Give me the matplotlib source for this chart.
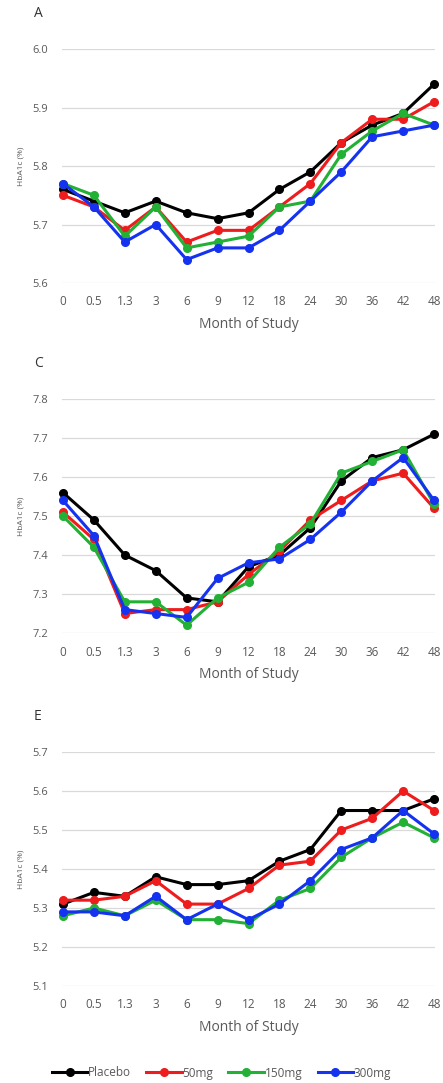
import matplotlib
matplotlib.use("Agg")
import matplotlib.pyplot as plt
from matplotlib.lines import Line2D

months = ["0", "0.5", "1.3", "3", "6", "9", "12", "18", "24", "30", "36", "42", "48"]
series_names = ["Placebo", "50mg", "150mg", "300mg"]
colors = ["#000000", "#ee1c1c", "#22b035", "#1432f0"]

# Panel A
a_placebo = [5.76, 5.74, 5.72, 5.74, 5.72, 5.71, 5.72, 5.76, 5.79, 5.84, 5.87, 5.89, 5.94]
a_50 = [5.75, 5.73, 5.69, 5.73, 5.67, 5.69, 5.69, 5.73, 5.77, 5.84, 5.88, 5.88, 5.91]
a_150 = [5.77, 5.75, 5.68, 5.73, 5.66, 5.67, 5.68, 5.73, 5.74, 5.82, 5.86, 5.89, 5.87]
a_300 = [5.77, 5.73, 5.67, 5.70, 5.64, 5.66, 5.66, 5.69, 5.74, 5.79, 5.85, 5.86, 5.87]
a_ticks = [5.6, 5.7, 5.8, 5.9, 6.0]

# Panel C
c_placebo = [7.56, 7.49, 7.40, 7.36, 7.29, 7.28, 7.37, 7.40, 7.47, 7.59, 7.65, 7.67, 7.71]
c_50 = [7.51, 7.44, 7.25, 7.26, 7.26, 7.28, 7.35, 7.41, 7.49, 7.54, 7.59, 7.61, 7.52]
c_150 = [7.50, 7.42, 7.28, 7.28, 7.22, 7.29, 7.33, 7.42, 7.48, 7.61, 7.64, 7.67, 7.53]
c_300 = [7.54, 7.45, 7.26, 7.25, 7.24, 7.34, 7.38, 7.39, 7.44, 7.51, 7.59, 7.65, 7.54]
c_ticks = [7.2, 7.3, 7.4, 7.5, 7.6, 7.7, 7.8]

# Panel E
e_placebo = [5.31, 5.34, 5.33, 5.38, 5.36, 5.36, 5.37, 5.42, 5.45, 5.55, 5.55, 5.55, 5.58]
e_50 = [5.32, 5.32, 5.33, 5.37, 5.31, 5.31, 5.35, 5.41, 5.42, 5.50, 5.53, 5.60, 5.55]
e_150 = [5.28, 5.30, 5.28, 5.32, 5.27, 5.27, 5.26, 5.32, 5.35, 5.43, 5.48, 5.52, 5.48]
e_300 = [5.29, 5.29, 5.28, 5.33, 5.27, 5.31, 5.27, 5.31, 5.37, 5.45, 5.48, 5.55, 5.49]
e_ticks = [5.1, 5.2, 5.3, 5.4, 5.5, 5.6, 5.7]

panels = [
    ("A", [a_placebo, a_50, a_150, a_300], a_ticks, 0.7387),
    ("C", [c_placebo, c_50, c_150, c_300], c_ticks, 0.4155),
    ("E", [e_placebo, e_50, e_150, e_300], e_ticks, 0.0896),
]

plt.rcParams['font.family'] = ['Open Sans', 'DejaVu Sans']
W, H = 443, 1083
fig = plt.figure(figsize=(W / 100, H / 100), dpi=100)
fig.patch.set_facecolor("white")

gray = "#595959"
x = list(range(len(months)))
left = 62 / W
width = (435 - 62) / W
height = 0.2160

for label, data, ticks, bottom in panels:
    ax = fig.add_axes([left, bottom, width, height])
    ax.set_ylim(ticks[0], ticks[-1])
    ax.set_yticks(ticks)
    ax.set_yticklabels([f"{t:.1f}" for t in ticks], color=gray, fontsize=8)
    ax.set_xlim(-0.03, 12.03)
    ax.set_xticks(x)
    ax.set_xticklabels(months, color=gray, fontsize=8.5)
    ax.grid(axis="y", color="#d9d9d9", linewidth=0.9)
    ax.set_axisbelow(True)
    for s in ax.spines.values():
        s.set_visible(False)
    ax.tick_params(axis="x", length=0, pad=9)
    ax.tick_params(axis="y", length=0, pad=10)
    for vals, c in zip(data, colors):
        ax.plot(x, vals, color=c, linewidth=2.2, marker="o", markersize=5.5, clip_on=False, zorder=3)
    ax.set_xlabel("Month of Study", color=gray, fontsize=10, labelpad=6)
    ax.set_ylabel("HbA1c (%)", color=gray, fontsize=6, labelpad=6)
    ax.text(-0.075, 1.15, label, transform=ax.transAxes, fontsize=10, color="#333333",
            ha="left", va="center")

handles = [Line2D([0], [0], color=c, linewidth=2.2, marker="o", markersize=5.5) for c in colors]
fig.legend(handles, series_names, loc="center", bbox_to_anchor=(0.5, 1 - 1073 / H), ncol=4,
           frameon=False, fontsize=8.5, handlelength=3.0, handletextpad=0.05, columnspacing=1.3,
           labelcolor=gray)

fig.savefig("out.png", dpi=100, facecolor="white")
